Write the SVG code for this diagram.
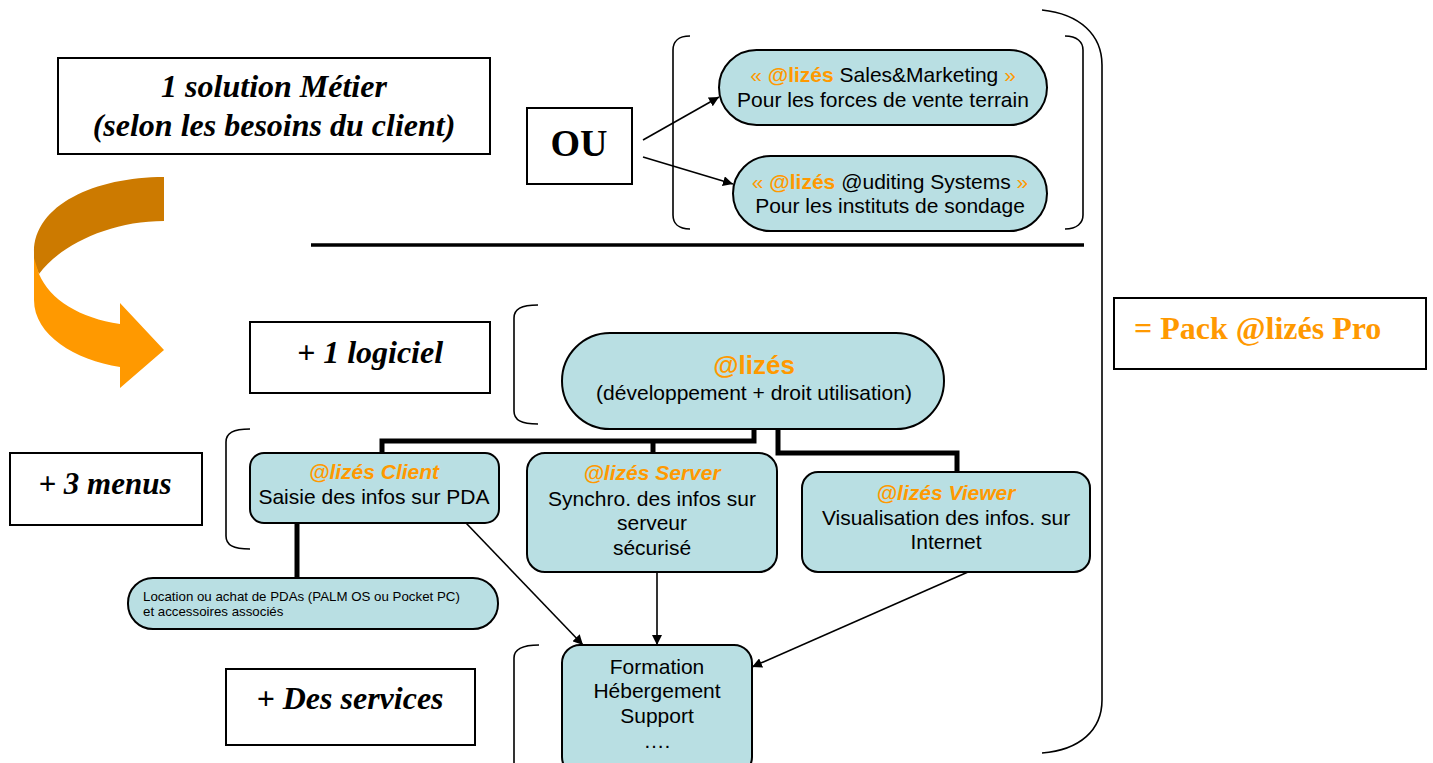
<svg xmlns="http://www.w3.org/2000/svg" width="1433" height="763" viewBox="0 0 1433 763">
<defs>
<marker id="ah" viewBox="0 0 10 10" refX="10" refY="5" markerWidth="10" markerHeight="10" markerUnits="userSpaceOnUse" orient="auto">
<path d="M0,0 L10,5 L0,10 z" fill="#000"/>
</marker>
<style>
.box{fill:#fff;stroke:#000;stroke-width:2}
.node{fill:#B9DFE3;stroke:#000;stroke-width:2}
.br{fill:none;stroke:#000;stroke-width:1.6}
.thick{fill:none;stroke:#000;stroke-width:5}
.thin{fill:none;stroke:#000;stroke-width:1.6;marker-end:url(#ah)}
.serif{font-family:"Liberation Serif","Times New Roman",serif;font-weight:bold;font-style:italic;fill:#000}
.sans{font-family:"Liberation Sans",Arial,sans-serif;fill:#000}
.or{fill:#FF9900}
</style>
</defs>
<rect width="1433" height="763" fill="#fff"/>

<g id="curved-arrow">
<path d="M164,177 C95,177 34,205 34,252 L34,262 L39,274 C60,245 110,221 164,221 Z" fill="#CC7A00"/>
<path d="M34,258 L34,300 C34,335 75,360 120,367 L120,388 L164,350 L120,303 L120,324 C80,318 50,300 39,274 Z" fill="#FF9900"/>
</g>

<g id="solution">
<rect class="box" x="58" y="58" width="432" height="96"/>
<text class="serif" font-size="32" text-anchor="middle" x="274" y="97">1 solution Métier</text>
<text class="serif" font-size="32" text-anchor="middle" x="274" y="136">(selon les besoins du client)</text>
</g>

<g id="ou">
<rect class="box" x="527" y="108" width="105" height="76"/>
<text x="579" y="156" text-anchor="middle" font-family="'Liberation Serif','Times New Roman',serif" font-weight="bold" font-size="38">OU</text>
</g>

<g id="logiciel">
<rect class="box" x="250" y="322" width="240" height="71"/>
<text class="serif" font-size="32" text-anchor="middle" x="370" y="363">+ 1 logiciel</text>
</g>

<g id="menus">
<rect class="box" x="10" y="453" width="192" height="72"/>
<text class="serif" font-size="31" text-anchor="middle" x="105" y="494">+ 3 menus</text>
</g>

<g id="services">
<rect class="box" x="226" y="669" width="249" height="76"/>
<text class="serif" font-size="32" text-anchor="middle" x="350" y="709">+ Des services</text>
</g>

<g id="pack">
<rect class="box" x="1114" y="298" width="312" height="71"/>
<text x="1134" y="339" font-family="'Liberation Serif','Times New Roman',serif" font-weight="bold" font-size="32" fill="#FF9900">= Pack @lizés Pro</text>
</g>

<g id="brackets">
<path class="br" d="M690,36 C678,36 673,42 673,50 L673,215 C673,223 678,229 690,229"/>
<path class="br" d="M1065,36 C1077,36 1083,42 1083,50 L1083,215 C1083,223 1077,229 1065,229"/>
<path class="br" d="M1042,10 C1080,14 1102,35 1102,65 L1102,700 C1102,730 1080,750 1042,753"/>
<path class="br" d="M538,305 C521,305 514,309 514,318 L514,411 C514,420 521,424 538,424"/>
<path class="br" d="M250,429 C233,429 226,433 226,442 L226,536 C226,545 233,549 250,549"/>
<path class="br" d="M539,645 C522,645 514,649 514,658 L514,770"/>
</g>
<line x1="311" y1="245" x2="1084" y2="245" stroke="#000" stroke-width="3.5"/>

<g id="connectors">
<path class="thick" d="M754,429 L754,441 L382,441 L382,453"/>
<path class="thick" d="M653,441 L653,453"/>
<path class="thick" d="M778,429 L778,453 L957,453 L957,472"/>
<path class="thick" d="M297,523 L297,578"/>
<path class="thin" d="M643,140 L719,97"/>
<path class="thin" d="M643,157 L733,184"/>
<path class="thin" d="M466,523 L583,645"/>
<path class="thin" d="M657,572 L657,645"/>
<path class="thin" d="M968,572 L752,667"/>
</g>

<g id="sales">
<rect class="node" x="719" y="50" width="328" height="75" rx="37.5"/>
<text class="sans" font-size="21" x="883" y="82" text-anchor="middle"><tspan class="or">« </tspan><tspan class="or" font-weight="bold">@lizés</tspan> Sales&amp;Marketing <tspan class="or">»</tspan></text>
<text class="sans" font-size="21" x="883" y="107" text-anchor="middle">Pour les forces de vente terrain</text>
</g>

<g id="auditing">
<rect class="node" x="733" y="156" width="314" height="75" rx="37.5"/>
<text class="sans" font-size="21" x="890" y="189" text-anchor="middle"><tspan class="or">« </tspan><tspan class="or" font-weight="bold">@lizés</tspan> @uditing Systems <tspan class="or">»</tspan></text>
<text class="sans" font-size="21" x="890" y="213" text-anchor="middle">Pour les instituts de sondage</text>
</g>

<g id="alizes">
<rect class="node" x="562" y="333" width="382" height="96" rx="48"/>
<text class="sans or" x="754" y="374" text-anchor="middle" font-weight="bold" font-size="26">@lizés</text>
<text class="sans" font-size="21" x="754" y="400" text-anchor="middle">(développement + droit utilisation)</text>
</g>

<g id="client">
<rect class="node" x="250" y="453" width="249" height="70" rx="14"/>
<text class="sans or" font-size="21" x="374" y="479" text-anchor="middle" font-weight="bold" font-style="italic">@lizés Client</text>
<text class="sans" font-size="21" x="374" y="504" text-anchor="middle">Saisie des infos sur PDA</text>
</g>

<g id="server">
<rect class="node" x="527" y="453" width="250" height="119" rx="18"/>
<text class="sans or" font-size="21" x="652" y="480" text-anchor="middle" font-weight="bold" font-style="italic">@lizés Server</text>
<text class="sans" font-size="21" x="652" y="506" text-anchor="middle">Synchro. des infos sur</text>
<text class="sans" font-size="21" x="652" y="530" text-anchor="middle">serveur</text>
<text class="sans" font-size="21" x="652" y="555" text-anchor="middle">sécurisé</text>
</g>

<g id="viewer">
<rect class="node" x="802" y="472" width="288" height="100" rx="16"/>
<text class="sans or" font-size="21" x="946" y="500" text-anchor="middle" font-weight="bold" font-style="italic">@lizés Viewer</text>
<text class="sans" font-size="21" x="946" y="525" text-anchor="middle">Visualisation des infos. sur</text>
<text class="sans" font-size="21" x="946" y="549" text-anchor="middle">Internet</text>
</g>

<g id="location">
<rect class="node" x="128" y="578" width="370" height="51" rx="25"/>
<text class="sans" x="143" y="601" font-size="13.3">Location ou achat de PDAs (PALM OS ou Pocket PC)</text>
<text class="sans" x="143" y="616" font-size="13.3">et accessoires associés</text>
</g>

<g id="formation">
<rect class="node" x="562" y="645" width="190" height="130" rx="18"/>
<text class="sans" font-size="21" x="657" y="674" text-anchor="middle">Formation</text>
<text class="sans" font-size="21" x="657" y="698" text-anchor="middle">Hébergement</text>
<text class="sans" font-size="21" x="657" y="723" text-anchor="middle">Support</text>
<text class="sans" font-size="21" x="657" y="748" text-anchor="middle">….</text>
</g>
</svg>
